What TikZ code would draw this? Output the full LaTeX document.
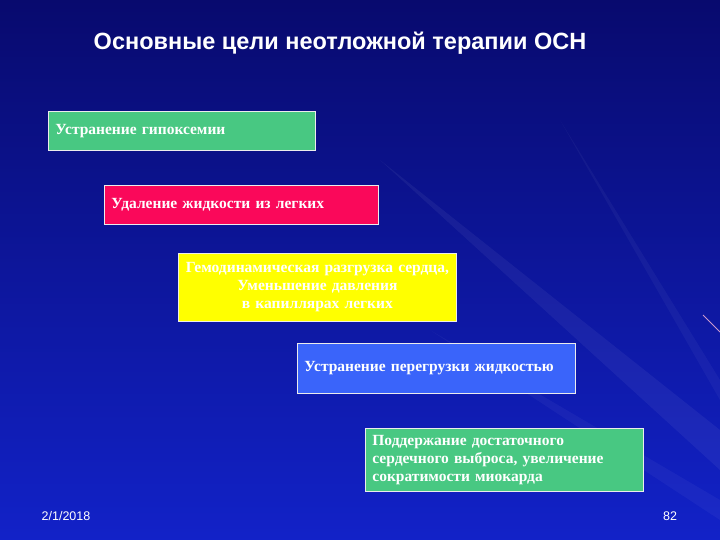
\documentclass[tikz,border=0pt]{standalone}
\usepackage{fontspec}
\setmainfont{Liberation Serif}
\newfontfamily\titlefont{Liberation Sans}
\usetikzlibrary{positioning}
\definecolor{bgtop}{RGB}{8,10,110}
\definecolor{bgbot}{RGB}{18,34,200}
\definecolor{goalgreen}{RGB}{72,200,130}
\definecolor{goalpink}{RGB}{250,8,90}
\definecolor{goalyellow}{RGB}{255,255,0}
\definecolor{goalblue}{RGB}{58,100,250}

\begin{document}
\begin{tikzpicture}[x=1pt,y=-1pt,
		goal/.style={draw=white!85!gray, line width=0.8pt, anchor=north west, text=white,
			font=\fontsize{15.5}{18}\selectfont\bfseries, inner xsep=7pt},
		foot/.style={text=white, font=\titlefont\fontsize{12.5}{14}\selectfont}]
			% background
			\useasboundingbox (0,0) rectangle (720,540);
			\shade[top color=bgtop, bottom color=bgbot] (0,0) rectangle (720,540);
			\fill[white, opacity=0.05] (720,430) -- (380,160) -- (720,470) -- cycle;
			\fill[white, opacity=0.04] (720,500) -- (430,330) -- (720,520) -- cycle;
			\fill[white, opacity=0.04] (720,380) -- (560,120) -- (720,400) -- cycle;
			\draw[violet!40!white, line width=0.8pt] (703,315) -- (720,332);
			% title
			\node[text=white, font=\titlefont\fontsize{23.5}{26}\selectfont\bfseries] (title) at (340,43) {Основные цели неотложной терапии ОСН};
			% goals
			\node[goal, fill=goalgreen, minimum width=267pt, minimum height=39pt, text width=253pt, align=left] (hypox) at (48,111) {Устранение гипоксемии};
			\node[goal, fill=goalpink, minimum width=274pt, minimum height=39pt, text width=260pt, align=left] (fluid) at (104,185) {Удаление жидкости из легких};
			\node[goal, fill=goalyellow, minimum width=278pt, minimum height=68pt, text width=270pt, inner xsep=4pt, align=center] (unload) at (178,253) {Гемодинамическая разгрузка сердца,\\Уменьшение давления\\в капиллярах легких};
			\node[goal, fill=goalblue, minimum width=278pt, minimum height=50pt, text width=264pt, align=left] (overload) at (297,343) {Устранение перегрузки жидкостью};
			\node[goal, fill=goalgreen, minimum width=278pt, minimum height=63pt, text width=264pt, align=left] (output) at (365,428) {Поддержание достаточного\\сердечного выброса, увеличение\\сократимости миокарда};
			% footer
			\node[foot] (date) at (66,516) {2/1/2018};
			\node[foot] (page) at (670,516) {82};
	\end{tikzpicture}
\end{document}
